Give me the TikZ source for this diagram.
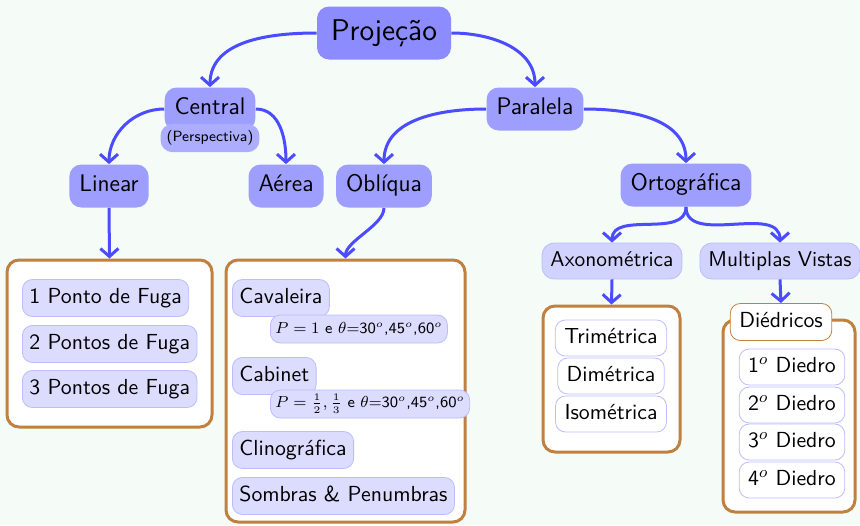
\documentclass[tikz,border=0pt]{standalone}
\usetikzlibrary{arrows.meta}
\renewcommand{\familydefault}{\sfdefault}

\definecolor{fundo}{RGB}{245,252,247}
\definecolor{azulraiz}{RGB}{140,140,255}
\definecolor{azulramo}{RGB}{158,158,255}
\definecolor{azulclaro}{RGB}{210,210,255}
\definecolor{azulfolha}{RGB}{220,220,255}
\definecolor{azulborda}{RGB}{188,188,255}
\definecolor{azulseta}{RGB}{75,75,255}
\definecolor{marrom}{RGB}{192,128,64}

\begin{document}
\begin{tikzpicture}[
            x=0.5pt, y=-0.5pt,
            >={Straight Barb[length=4pt,width=9pt,line width=1.5pt]},
            seta/.style={->, draw=azulseta, line width=1.5pt},
            raiz/.style={rounded corners=6pt, fill=azulraiz, inner xsep=7pt,
                font=\fontsize{15}{18}\selectfont, text height=10.5pt, text depth=3.5pt, minimum height=26.5pt},
            ramo/.style={rounded corners=6pt, fill=azulramo, inner xsep=5pt,
                font=\fontsize{12}{14}\selectfont, text height=8.5pt, text depth=3pt, minimum height=21.5pt},
            subramo/.style={rounded corners=6pt, fill=azulclaro, draw=azulborda, inner xsep=4.2pt,
                font=\fontsize{10.7}{12}\selectfont, text height=7.5pt, text depth=2.5pt, minimum height=18pt},
            folha/.style={rounded corners=5pt, fill=azulfolha, draw=azulborda, inner xsep=3.5pt,
                font=\fontsize{10.9}{12}\selectfont, text height=7.5pt, text depth=2.5pt, minimum height=18.5pt},
            folhab/.style={folha, fill=white, inner xsep=4.5pt, minimum height=18pt},
            formula/.style={rounded corners=5pt, fill=azulfolha, draw=azulborda, inner xsep=2.5pt, inner ysep=1pt,
                font=\fontsize{7.8}{9}\selectfont, minimum height=14pt},
            grupo/.style={rounded corners=6pt, draw=marrom, line width=1.5pt, fill=white},
            rotulo/.style={rounded corners=5pt, draw=marrom, fill=white, inner xsep=4.5pt,
                font=\fontsize{10.9}{12}\selectfont, text height=7.5pt, text depth=2.5pt, minimum height=18.5pt}
        ]

        \fill[fundo] (0,0) rectangle (860,525);
        \useasboundingbox (0,0) rectangle (860,525);

        % Nodes
        \node[raiz] (proj) at (384,33) {Projeção};
        \node[ramo] (central) at (210,109) {Central};
        \node[ramo, fill=azulramo!85!white, font=\fontsize{7.4}{9}\selectfont, inner xsep=3pt,
              minimum height=13pt, text height=5.5pt, text depth=2pt] (persp) at (210,138) {(Perspectiva)};
        \node[ramo] (paralela) at (535,109) {Paralela};
        \node[ramo] (linear) at (109,186) {Linear};
        \node[ramo] (aerea) at (286,186) {Aérea};
        \node[ramo] (obliqua) at (384,186) {Oblíqua};
        \node[ramo] (orto) at (686,185) {Ortográfica};
        \node[subramo] (axono) at (612,261) {Axonométrica};
        \node[subramo] (multi) at (780,261) {Multiplas Vistas};

        % Boxes
        \node[grupo, minimum width=102.5pt, minimum height=83.5pt] (caixaA) at (109.5,343.5) {};
        \node[grupo, minimum width=119.5pt, minimum height=131pt] (caixaB) at (345.5,391) {};
        \node[grupo, minimum width=68.5pt, minimum height=73pt] (caixaC) at (611.5,379) {};
        \node[grupo, minimum width=66pt, minimum height=96pt] (caixaD) at (789,416) {};

        % Linear
        \node[folha, anchor=west] (fuga1) at (22,298) {1 Ponto de Fuga};
        \node[folha, anchor=west] (fuga2) at (22,344) {2 Pontos de Fuga};
        \node[folha, anchor=west] (fuga3) at (22,389) {3 Pontos de Fuga};

        % Obliqua
        \node[folha, anchor=west] (cavaleira) at (232,298) {Cavaleira};
        \node[formula, anchor=west] (fcavaleira) at (270,329) {$P=1$ e $\theta$=30$^o$,45$^o$,60$^o$};
        \node[folha, anchor=west] (cabinet) at (232,376) {Cabinet};
        \node[formula, anchor=west] (fcabinet) at (270,404) {$P=\frac{1}{2},\frac{1}{3}$ e $\theta$=30$^o$,45$^o$,60$^o$};
        \node[folha, anchor=west] (clino) at (232,450) {Clinográfica};
        \node[folha, anchor=west] (sombras) at (232,496) {Sombras \& Penumbras};

        % Axonometrica
        \node[folhab] (tri) at (611,338) {Trimétrica};
        \node[folhab] (di) at (611,376) {Dimétrica};
        \node[folhab] (iso) at (611,414) {Isométrica};

        % Diedricos
        \node[rotulo] (diedricos) at (781,322) {Diédricos};
        \node[folhab] (diedro1) at (792,367) {1$^o$ Diedro};
        \node[folhab] (diedro2) at (792,405) {2$^o$ Diedro};
        \node[folhab] (diedro3) at (792,442) {3$^o$ Diedro};
        \node[folhab] (diedro4) at (792,480) {4$^o$ Diedro};

        % Edges
        \draw[seta] (proj.west) to[out=180,in=90] (central.north);
        \draw[seta] (proj.east) to[out=0,in=90] (paralela.north);
        \draw[seta] (central.west) to[out=180,in=90] (linear.north);
        \draw[seta] (central.east) to[out=0,in=90] (aerea.north);
        \draw[seta] (paralela.west) to[out=180,in=90] (obliqua.north);
        \draw[seta] (paralela.east) to[out=0,in=90] (orto.north);
        \draw[seta] (orto.south) to[out=-90,in=90] (axono.north);
        \draw[seta] (orto.south) to[out=-90,in=90] (multi.north);
        \draw[seta] (linear.south) -- (caixaA.north);
        \draw[seta] (obliqua.south) to[out=-90,in=90,looseness=0.7] (caixaB.north);
        \draw[seta] (axono.south) -- (caixaC.north);
        \draw[seta] (multi.south) -- (diedricos.north);

        \end{tikzpicture}
\end{document}
